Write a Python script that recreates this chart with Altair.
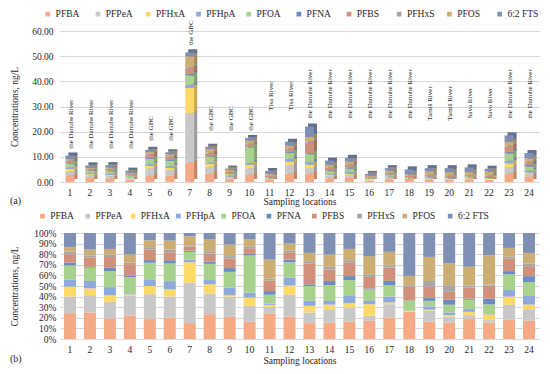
import altair as alt
import pandas as pd

locations = list(range(1, 25))
compounds = ["PFBA", "PFPeA", "PFHxA", "PFHpA", "PFOA", "PFNA", "PFBS", "PFHxS", "PFOS", "6:2 FTS"]
colors = ["#F6A985", "#C8C8C8", "#FFD966", "#8EA9DB", "#A9D18E", "#6A8CC2",
          "#D0907A", "#A6A6A6", "#CCAE74", "#8090B5"]

pfba = [2.56, 1.65, 1.30, 0.99, 2.41, 2.40, 7.73, 3.28, 1.11, 2.85, 1.06, 3.36,
        3.30, 1.33, 1.59, 0.55, 1.12, 1.28, 0.90, 0.86, 1.09, 0.81, 3.35, 1.98]
pfpea = [1.64, 1.08, 1.05, 0.84, 3.00, 2.32, 19.62, 2.72, 1.01, 2.63, 0.26, 3.36,
         2.20, 1.06, 1.26, 0.15, 0.69, 0.03, 0.57, 0.31, 0.22, 0.13, 2.61, 1.25]
pfhxa = [0.99, 0.43, 0.42, 0.06, 1.00, 0.81, 9.99, 1.23, 0.07, 1.37, 0.09, 1.36,
         1.39, 0.37, 0.39, 0.35, 0.09, 0.02, 0.05, 0.07, 0.18, 0.28, 1.44, 0.51]
pfhpa = [0.69, 0.46, 0.52, 0.05, 0.72, 0.92, 1.29, 0.56, 0.38, 0.82, 0.05, 1.15,
         1.03, 0.29, 0.72, 0.10, 0.31, 0.02, 0.17, 0.14, 0.15, 0.03, 1.17, 0.93]
pfoa = [1.41, 0.83, 1.01, 0.69, 2.09, 1.96, 3.71, 2.14, 0.80, 6.13, 0.37, 2.35,
        3.08, 1.28, 1.38, 0.35, 0.58, 0.47, 0.29, 0.40, 0.51, 0.47, 2.72, 1.51]
pfna = [0.27, 0.05, 0.21, 0.05, 0.32, 0.37, 0.62, 0.31, 0.19, 0.26, 0.15, 0.40,
        0.35, 0.32, 0.36, 0.03, 0.23, 0.02, 0.17, 0.26, 0.06, 0.28, 0.57, 0.64]
pfbs = [0.84, 0.59, 0.69, 0.50, 1.28, 0.89, 1.96, 1.05, 0.48, 0.93, 0.44, 1.10,
        4.33, 0.93, 1.20, 0.35, 0.69, 0.63, 0.57, 0.41, 0.60, 0.65, 2.15, 1.08]
pfhxs = [0.26, 0.13, 0.15, 0.06, 0.28, 0.30, 0.62, 0.31, 0.12, 0.33, 0.07, 0.30,
         0.48, 0.21, 0.24, 0.08, 0.12, 0.08, 0.29, 0.35, 0.13, 0.05, 0.35, 0.29]
pfos = [0.43, 0.36, 0.36, 0.35, 0.83, 0.99, 4.38, 1.54, 0.58, 1.10, 0.79, 1.01,
        1.72, 0.99, 1.02, 0.55, 0.70, 0.44, 1.25, 1.13, 1.02, 1.46, 1.55, 1.15]
fts62 = [1.41, 1.03, 1.01, 0.91, 0.88, 0.85, 1.60, 0.87, 0.58, 1.09, 1.10, 1.60,
         4.14, 1.73, 1.44, 0.70, 0.98, 2.03, 1.24, 1.58, 1.85, 1.11, 2.61, 2.16]

rivers = ["the Danube River", "the Danube River", "the Danube River", "the Danube River",
          "the GBC", "the GBC", "the GBC", "the GBC", "the GBC", "the GBC",
          "Tisa River", "Tisa River",
          "the Danube River", "the Danube River", "the Danube River",
          "the Danube River", "the Danube River", "the Danube River",
          "Tamiš River", "Tamiš River", "Sava River", "Sava River",
          "the Danube River", "the Danube River"]
label_level = [13.2, 13.2, 13.2, 13.2, 16.4, 16.4, 54.4, 20.4, 20.4, 20.4, 28.4, 28.4,
               25.2, 25.2, 25.2, 25.2, 25.2, 25.2, 24.4, 24.4, 25.2, 25.2, 25.2, 25.2]

series = [pfba, pfpea, pfhxa, pfhpa, pfoa, pfna, pfbs, pfhxs, pfos, fts62]
rows = []
for ci, (name, vals) in enumerate(zip(compounds, series)):
    for loc, v in zip(locations, vals):
        rows.append({"loc": loc, "compound": name, "order": ci, "value": v})
df = pd.DataFrame(rows)
lab_df = pd.DataFrame({"loc": locations, "river": rivers, "level": label_level})

FONT = "Liberation Serif"
TXT = "#262626"
W = 479

color_scale = alt.Scale(domain=compounds, range=colors)


def legend(lx, ly, cpad):
    return alt.Legend(orient="none", legendX=lx, legendY=ly, direction="horizontal",
                      columns=10, gridAlign="all", columnPadding=cpad, title=None,
                      symbolType="square", symbolSize=22, symbolStrokeWidth=0,
                      labelOffset=3, labelFont=FONT, labelFontSize=9.5,
                      labelColor=TXT, padding=0)


order = alt.Order("order:Q", sort="ascending")

# ---------- panel (a)
xa = alt.X("loc:O", title="Sampling locations",
           scale=alt.Scale(paddingInner=0, paddingOuter=0),
           axis=alt.Axis(labelAngle=0, ticks=False, domain=False, grid=False,
                         labelPadding=5, titlePadding=0))
ya_scale = alt.Scale(domain=[0, 60], nice=False)
ya_axis = alt.Axis(values=[0, 10, 20, 30, 40, 50, 60], format=".2f", ticks=False,
                   domain=False, labelPadding=7, titlePadding=12.6,
                   gridColor="#D9D9D9")
ya = alt.Y("value:Q", stack="zero", title="Concentrations, ng/L",
           scale=ya_scale, axis=ya_axis)
col_a = alt.Color("compound:N", scale=color_scale, legend=legend(-16.9, -22, 6.2))

side = alt.Chart(df).mark_bar(size=9, xOffset=3, x2Offset=3, yOffset=-3, y2Offset=-3).encode(
    x=xa, y=ya, color=col_a, order=order)
shade = alt.Chart(df).transform_aggregate(
    total="sum(value)", groupby=["loc"]
).mark_bar(size=9, xOffset=3, x2Offset=3, yOffset=-3, y2Offset=-3,
           color="black", opacity=0.22).encode(
    x=xa, y=alt.Y("total:Q", title="Concentrations, ng/L", scale=ya_scale, axis=ya_axis))
front = alt.Chart(df).mark_bar(size=9).encode(x=xa, y=ya, color=col_a, order=order)
rlabels = alt.Chart(lab_df).mark_text(
    angle=270, align="left", baseline="middle", font=FONT, fontSize=7, color=TXT, dy=1
).encode(x=xa, y=alt.Y("level:Q", scale=ya_scale, axis=ya_axis,
                        title="Concentrations, ng/L"), text="river:N")
tag_a = alt.Chart(pd.DataFrame({"t": ["(a)"]})).mark_text(
    font=FONT, fontSize=10, color=TXT, align="left", baseline="middle"
).encode(x=alt.value(-50), y=alt.value(170), text="t:N")

panel_a = alt.layer(side, shade, front, rlabels, tag_a).properties(width=W, height=151)

# ---------- panel (b)
xb = alt.X("loc:O", title="Sampling locations",
           scale=alt.Scale(paddingInner=0, paddingOuter=0),
           axis=alt.Axis(labelAngle=0, ticks=False, domain=False, grid=False,
                         labelPadding=5, titlePadding=2))
yb = alt.Y("value:Q", stack="normalize", title="Concentrations, ng/L",
           scale=alt.Scale(domain=[0, 1], nice=False),
           axis=alt.Axis(values=[0, 0.1, 0.2, 0.3, 0.4, 0.5, 0.6, 0.7, 0.8, 0.9, 1.0],
                         format=".0%", ticks=False, domain=False, labelPadding=4,
                         titlePadding=14.8, gridColor="#D9D9D9"))
col_b = alt.Color("compound:N", scale=color_scale, legend=legend(-22.3, -22, 1.3))
bars_b = alt.Chart(df).mark_bar(size=12).encode(x=xb, y=yb, color=col_b, order=order)
tag_b = alt.Chart(pd.DataFrame({"t": ["(b)"]})).mark_text(
    font=FONT, fontSize=10, color=TXT, align="left", baseline="middle"
).encode(x=alt.value(-50), y=alt.value(126), text="t:N")
panel_b = alt.layer(bars_b, tag_b).properties(width=W, height=106)

chart = alt.vconcat(panel_a, panel_b, spacing=51, bounds="flush").resolve_scale(
    x="independent", y="independent"
).resolve_legend(color="independent").properties(
    padding={"left": 0, "top": 0, "right": 0, "bottom": 0}, background="white"
).configure_view(stroke="transparent").configure_axis(
    labelFont=FONT, labelFontSize=9.5, labelColor=TXT,
    titleFont=FONT, titleFontSize=9.5, titleFontWeight="normal", titleColor=TXT
)

chart.save("out.html", embed_options={"renderer": "svg", "actions": False})
